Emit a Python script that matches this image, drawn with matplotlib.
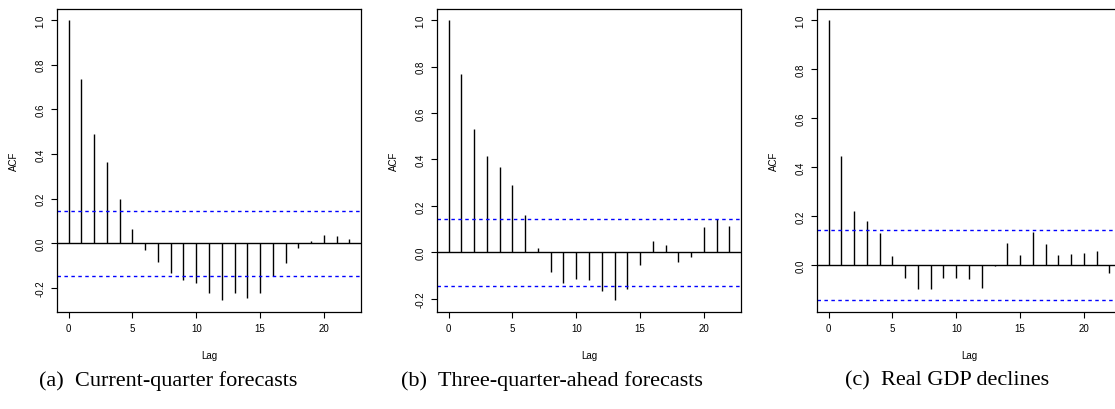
import numpy as np
import matplotlib
matplotlib.use("Agg")
import matplotlib.pyplot as plt

plt.rcParams['font.family'] = ['Liberation Sans', 'DejaVu Sans']
plt.rcParams['axes.unicode_minus'] = False

# sample autocorrelations, lags 0..22
lags = np.arange(23)
acf_current = [1.0, 0.735, 0.488, 0.364, 0.200, 0.063, -0.031, -0.084, -0.134, -0.167,
               -0.178, -0.224, -0.257, -0.224, -0.246, -0.224, -0.145, -0.088, -0.022,
               0.012, 0.037, 0.034, 0.019]
acf_three_ahead = [1.0, 0.769, 0.529, 0.414, 0.368, 0.288, 0.160, 0.017, -0.086, -0.133,
                   -0.115, -0.120, -0.169, -0.208, -0.159, -0.054, 0.047, 0.032, -0.044,
                   -0.020, 0.109, 0.142, 0.115]
acf_gdp = [1.0, 0.445, 0.220, 0.179, 0.132, 0.038, -0.052, -0.099, -0.099, -0.054,
           -0.054, -0.056, -0.096, -0.005, 0.089, 0.042, 0.133, 0.087, 0.039, 0.045,
           0.050, 0.056, -0.034]
conf_band = 0.145  # 1.96/sqrt(n)

series = [acf_current, acf_three_ahead, acf_gdp]
captions = ["(a)  Current-quarter forecasts",
            "(b)  Three-quarter-ahead forecasts",
            "(c)  Real GDP declines"]
caption_x = [168, 552, 947]

W, H = 1115, 410
fig = plt.figure(figsize=(W / 100, H / 100), dpi=100)

ax_left = [57.3, 437.3, 817.3]
ax_w, ax_top, ax_bot = 303.4, 10, 312.7

for i, acf in enumerate(series):
    acf = np.array(acf)
    ax = fig.add_axes([ax_left[i] / W, (H - ax_bot) / H, ax_w / W, (ax_bot - ax_top) / H])
    ax.vlines(lags, 0, acf, color='black', lw=1.0)
    ax.axhline(0, color='black', lw=1.0)
    for c in (conf_band, -conf_band):
        ax.axhline(c, color='#0000ff', lw=1.0, ls=(0, (2.5, 2.5)))

    # R style 4% expansion of the data range
    lo, hi = min(acf.min(), -conf_band), max(acf.max(), conf_band)
    pad = 0.04 * (hi - lo)
    ax.set_ylim(lo - pad, hi + pad)
    ax.set_xlim(-0.04 * 22, 22 * 1.04)

    ax.set_xticks([0, 5, 10, 15, 20])
    yt = [t for t in np.arange(-0.2, 1.01, 0.2) if t >= lo - 1e-9]
    ax.set_yticks(yt)
    ax.set_yticklabels(["%.1f" % t for t in yt], rotation=90, va='center')
    ax.tick_params(direction='out', length=4.3, width=0.8, labelsize=7, pad=4)
    for s in ax.spines.values():
        s.set_linewidth(0.9)
    ax.set_xlabel("Lag", fontsize=7, labelpad=12)
    ax.set_ylabel("ACF", fontsize=7, labelpad=12)

    fig.text(caption_x[i] / W, (H - 381) / H, captions[i], ha='center', va='center',
             fontsize=16, family='Liberation Serif')

fig.savefig("out.png", dpi=100)
